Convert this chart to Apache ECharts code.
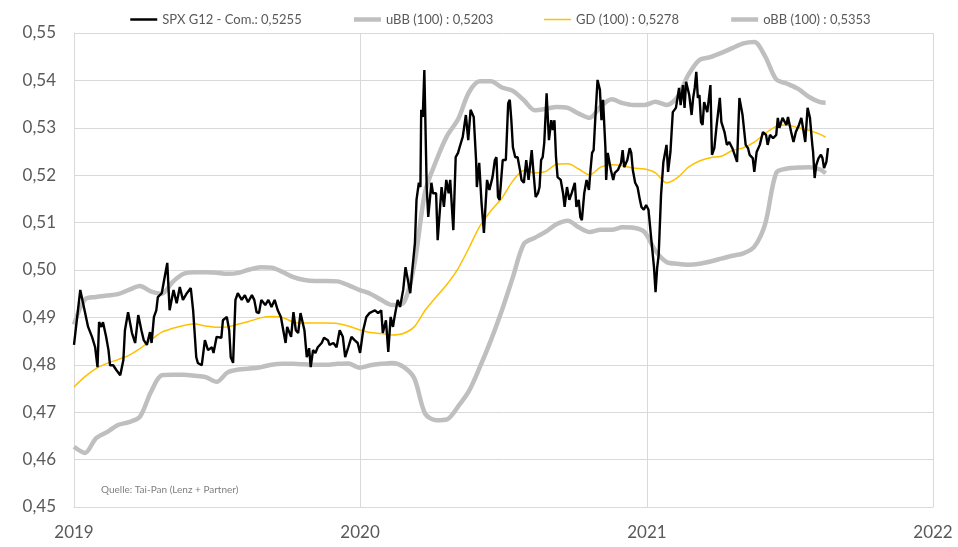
<!DOCTYPE html>
<html>
<head>
<meta charset="utf-8">
<script src="https://cdn.jsdelivr.net/npm/echarts@6/dist/echarts.min.js"></script>
<style>
  html, body { margin: 0; padding: 0; background: #fff; }
  #chart { width: 958px; height: 547px; }
</style>
</head>
<body>
<div id="chart"></div>
<script>
// SPX G12 - Com.: day offset from 2019-01-01 and value
const spxDays = [
  0, 8, 14, 16, 18, 23, 27, 30, 32, 35, 37, 41, 44, 46, 50, 54, 59, 63, 65, 69,
  74, 78, 82, 86, 89, 93, 97, 99, 102, 105, 107, 112, 115, 119, 122, 127, 131, 135, 139, 144,
  149, 152, 156, 158, 163, 167, 171, 176, 178, 182, 188, 190, 195, 198, 200, 203, 206, 209, 214, 218,
  222, 227, 230, 233, 236, 239, 244, 248, 252, 256, 260, 264, 267, 270, 272, 277, 280, 283, 286, 289,
  294, 297, 300, 302, 305, 308, 311, 316, 319, 324, 326, 331, 335, 339, 343, 346, 350, 354, 358, 362,
  365, 369, 373, 377, 384, 388, 392, 394, 398, 401, 404, 407, 409, 413, 416, 420, 423, 426, 429, 432,
  435, 437, 440, 442, 443, 445, 447, 450, 452, 454, 456, 458, 462, 464, 469, 472, 475, 478, 480, 484,
  487, 490, 492, 496, 500, 503, 506, 510, 513, 514, 517, 520, 523, 525, 527, 530, 534, 537, 539, 541,
  543, 547, 551, 554, 556, 558, 560, 563, 566, 569, 571, 574, 577, 580, 584, 586, 589, 592, 594, 596,
  598, 600, 603, 606, 609, 611, 613, 615, 617, 621, 624, 626, 629, 632, 635, 639, 641, 644, 646, 648,
  651, 654, 657, 659, 661, 663, 665, 668, 671, 673, 675, 678, 679, 681, 685, 688, 690, 694, 698, 700,
  702, 706, 709, 711, 713, 716, 719, 722, 724, 727, 730, 733, 737, 740, 742, 744, 746, 749, 752, 756,
  758, 761, 764, 768, 772, 774, 777, 779, 781, 785, 788, 790, 792, 794, 796, 798, 800, 802, 804, 808,
  812, 814, 817, 820, 824, 826, 830, 833, 836, 840, 843, 846, 849, 853, 857, 860, 862, 866, 868, 871,
  875, 879, 883, 885, 888, 892, 896, 898, 900, 904, 909, 911, 915, 918, 921, 925, 928, 931, 933, 936,
  939, 942, 943, 945, 947, 950, 953, 955, 957, 960, 962
];
const spxValues = [
  0.4842, 0.4958, 0.4911, 0.4915, 0.4880, 0.4859, 0.4837, 0.4795, 0.4890, 0.4880, 0.4890, 0.4859, 0.4831, 0.4799, 0.4799, 0.4789, 0.4778, 0.4810, 0.4873, 0.4911,
  0.4867, 0.4846, 0.4905, 0.4873, 0.4852, 0.4842, 0.4869, 0.4846, 0.4901, 0.4915, 0.4943, 0.4951, 0.4979, 0.5015, 0.4915, 0.4958, 0.4930, 0.4964, 0.4937, 0.4951,
  0.4962, 0.4915, 0.4816, 0.4804, 0.4799, 0.4852, 0.4831, 0.4837, 0.4825, 0.4859, 0.4857, 0.4894, 0.4901, 0.4873, 0.4816, 0.4804, 0.4937, 0.4951, 0.4937, 0.4947,
  0.4932, 0.4947, 0.4937, 0.4911, 0.4909, 0.4937, 0.4926, 0.4937, 0.4922, 0.4937, 0.4915, 0.4901, 0.4873, 0.4846, 0.4880, 0.4859, 0.4911, 0.4873, 0.4867, 0.4909,
  0.4873, 0.4816, 0.4835, 0.4795, 0.4831, 0.4825, 0.4837, 0.4846, 0.4857, 0.4852, 0.4842, 0.4846, 0.4837, 0.4873, 0.4859, 0.4816, 0.4837, 0.4859, 0.4852, 0.4846,
  0.4825, 0.4873, 0.4901, 0.4909, 0.4915, 0.4909, 0.4915, 0.4867, 0.4894, 0.4827, 0.4901, 0.4880, 0.4901, 0.4937, 0.4922, 0.4958, 0.5006, 0.4979, 0.4951, 0.5006,
  0.5057, 0.5148, 0.5184, 0.5175, 0.5338, 0.5323, 0.5422, 0.5175, 0.5112, 0.5112, 0.5184, 0.5162, 0.5162, 0.5063, 0.5175, 0.5133, 0.5190, 0.5162, 0.5190, 0.5084,
  0.5238, 0.5247, 0.5259, 0.5281, 0.5327, 0.5274, 0.5338, 0.5323, 0.5232, 0.5175, 0.5226, 0.5141, 0.5078, 0.5078, 0.5190, 0.5169, 0.5196, 0.5232, 0.5238, 0.5154,
  0.5148, 0.5232, 0.5232, 0.5352, 0.5359, 0.5316, 0.5259, 0.5238, 0.5238, 0.5211, 0.5190, 0.5184, 0.5232, 0.5190, 0.5253, 0.5211, 0.5154, 0.5162, 0.5175, 0.5232,
  0.5238, 0.5268, 0.5373, 0.5274, 0.5316, 0.5295, 0.5316, 0.5238, 0.5196, 0.5190, 0.5162, 0.5133, 0.5175, 0.5148, 0.5162, 0.5184, 0.5133, 0.5148, 0.5112, 0.5105,
  0.5162, 0.5190, 0.5169, 0.5211, 0.5247, 0.5253, 0.5316, 0.5401, 0.5380, 0.5316, 0.5359, 0.5259, 0.5190, 0.5247, 0.5211, 0.5190, 0.5205, 0.5211, 0.5226, 0.5253,
  0.5217, 0.5232, 0.5257, 0.5247, 0.5211, 0.5184, 0.5175, 0.5148, 0.5133, 0.5127, 0.5137, 0.5127, 0.5057, 0.5006, 0.4953, 0.5004, 0.5032, 0.5158, 0.5228, 0.5264,
  0.5207, 0.5249, 0.5333, 0.5342, 0.5384, 0.5348, 0.5390, 0.5342, 0.5397, 0.5369, 0.5327, 0.5363, 0.5384, 0.5418, 0.5363, 0.5369, 0.5312, 0.5306, 0.5354, 0.5333,
  0.5390, 0.5243, 0.5257, 0.5306, 0.5363, 0.5312, 0.5291, 0.5264, 0.5270, 0.5257, 0.5243, 0.5228, 0.5363, 0.5327, 0.5264, 0.5257, 0.5243, 0.5236, 0.5207, 0.5249,
  0.5264, 0.5291, 0.5285, 0.5264, 0.5285, 0.5278, 0.5285, 0.5321, 0.5300, 0.5321, 0.5306, 0.5323, 0.5291, 0.5270, 0.5291, 0.5306, 0.5321, 0.5291, 0.5270, 0.5342,
  0.5321, 0.5264, 0.5249, 0.5194, 0.5221, 0.5236, 0.5243, 0.5236, 0.5215, 0.5228, 0.5257
];

// smooth lines, every second week from 2019-01-01 (last point = week 137)
const gdValues = [
  0.4753, 0.4775, 0.4792, 0.4803, 0.4811, 0.4820, 0.4834, 0.4852, 0.4869, 0.4877,
  0.4883, 0.4886, 0.4882, 0.4879, 0.4880, 0.4886, 0.4892, 0.4899, 0.4902, 0.4900,
  0.4890, 0.4888, 0.4888, 0.4888, 0.4887, 0.4882, 0.4874, 0.4868, 0.4866, 0.4863,
  0.4866, 0.4880, 0.4915, 0.4943, 0.4970, 0.5003, 0.5047, 0.5093, 0.5125, 0.5152,
  0.5188, 0.5210, 0.5205, 0.5208, 0.5223, 0.5224, 0.5213, 0.5201, 0.5217, 0.5222,
  0.5220, 0.5215, 0.5213, 0.5205, 0.5184, 0.5195, 0.5217, 0.5230, 0.5237, 0.5240,
  0.5252, 0.5258, 0.5270, 0.5288, 0.5303, 0.5306, 0.5300, 0.5295, 0.5286, 0.5280
];

const obbValues = [
  0.4885, 0.4938, 0.4943, 0.4946, 0.4949, 0.4958, 0.4966, 0.4955, 0.4950, 0.4975,
  0.4992, 0.4995, 0.4995, 0.4994, 0.4992, 0.4994, 0.5001, 0.5006, 0.5005, 0.4996,
  0.4985, 0.4979, 0.4977, 0.4977, 0.4976, 0.4968, 0.4958, 0.4950, 0.4937, 0.4926,
  0.4930, 0.5010, 0.5165, 0.5230, 0.5283, 0.5318, 0.5375, 0.5398, 0.5398, 0.5385,
  0.5378, 0.5358, 0.5337, 0.5340, 0.5344, 0.5342, 0.5330, 0.5321, 0.5345, 0.5360,
  0.5352, 0.5348, 0.5348, 0.5355, 0.5348, 0.5365, 0.5412, 0.5443, 0.5449, 0.5458,
  0.5468, 0.5478, 0.5481, 0.5450, 0.5402, 0.5393, 0.5382, 0.5365, 0.5354, 0.5353
];

const ubbValues = [
  0.4627, 0.4614, 0.4645, 0.4658, 0.4673, 0.4679, 0.4690, 0.4742, 0.4778, 0.4779,
  0.4779, 0.4777, 0.4774, 0.4764, 0.4784, 0.4790, 0.4792, 0.4795, 0.4800, 0.4802,
  0.4802, 0.4801, 0.4800, 0.4800, 0.4802, 0.4803, 0.4794, 0.4799, 0.4802, 0.4804,
  0.4796, 0.4772, 0.4697, 0.4683, 0.4685, 0.4712, 0.4745, 0.4796, 0.4852, 0.4915,
  0.4985, 0.5055, 0.5068, 0.5081, 0.5097, 0.5104, 0.5090, 0.5080, 0.5085, 0.5085,
  0.5090, 0.5089, 0.5080, 0.5040, 0.5017, 0.5013, 0.5011, 0.5013, 0.5018, 0.5024,
  0.5030, 0.5035, 0.5049, 0.5098, 0.5205, 0.5214, 0.5216, 0.5217, 0.5212, 0.5204
];

const yearTicks = ['2019', '2020', '2021', '2022'];
const legendNames = [
  'SPX G12 - Com.: 0,5255',
  'uBB (100) : 0,5203',
  'GD (100) : 0,5278',
  'oBB (100) : 0,5353'
];
const legendWidths = [2.5, 4.5, 1.5, 4.5];

const DAY = 86400000;
const start = Date.UTC(2019, 0, 1);
const lastWeek = 137;
const bandDate = i => start + Math.min(2 * i, lastWeek) * 7 * DAY;

const spxData = spxValues.map((v, i) => [start + spxDays[i] * DAY, v]);
const gdData = gdValues.map((v, i) => [bandDate(i), v]);
const obbData = obbValues.map((v, i) => [bandDate(i), v]);
const ubbData = ubbValues.map((v, i) => [bandDate(i), v]);

const font = 'Lato, "Open Sans", sans-serif';
const chart = echarts.init(document.getElementById('chart'));

chart.setOption({
  animation: false,
  textStyle: { fontFamily: font },
  legend: {
    top: 8,
    left: 124,
    itemWidth: 27,
    itemHeight: 6,
    itemGap: 50,
    itemStyle: { opacity: 0 },
    textStyle: { color: '#595959', fontSize: 13, fontFamily: font },
    data: legendNames.map((n, i) => ({ name: n, lineStyle: { width: legendWidths[i] } }))
  },
  grid: { left: 74, right: 25, top: 33, bottom: 40 },
  xAxis: {
    type: 'time',
    min: Date.UTC(2019, 0, 1),
    max: Date.UTC(2022, 0, 1),
    splitNumber: 3,
    minInterval: 360 * DAY,
    axisLine: { show: true, lineStyle: { color: '#d9d9d9' } },
    axisTick: { show: false },
    axisLabel: {
      color: '#595959',
      fontSize: 17,
      margin: 17,
      showMinLabel: true,
      showMaxLabel: true,
      formatter: v => {
        const y = String(new Date(v).getUTCFullYear());
        return yearTicks.includes(y) ? y : '';
      }
    },
    splitLine: { show: true, lineStyle: { color: '#d9d9d9', width: 1 } }
  },
  yAxis: {
    type: 'value',
    min: 0.45,
    max: 0.55,
    interval: 0.01,
    axisLine: { show: true, lineStyle: { color: '#d9d9d9' } },
    axisTick: { show: false },
    axisLabel: {
      color: '#595959',
      fontSize: 17,
      margin: 18,
      formatter: v => v.toFixed(2).replace('.', ',')
    },
    splitLine: { lineStyle: { color: '#d9d9d9', width: 1 } }
  },
  graphic: [{
    type: 'text',
    left: 101,
    top: 485,
    style: {
      text: 'Quelle: Tai-Pan (Lenz + Partner)',
      fill: '#7f7f7f',
      font: '10px ' + font
    }
  }],
  series: [
    {
      name: legendNames[0],
      type: 'line',
      data: spxData,
      symbol: 'none',
      lineStyle: { color: '#000000', width: 2.4 },
      itemStyle: { color: '#000000' },
      z: 4
    },
    {
      name: legendNames[1],
      type: 'line',
      data: ubbData,
      symbol: 'none',
      smooth: 0.3,
      lineStyle: { color: '#bfbfbf', width: 4.5 },
      itemStyle: { color: '#bfbfbf' },
      z: 2
    },
    {
      name: legendNames[2],
      type: 'line',
      data: gdData,
      symbol: 'none',
      smooth: 0.3,
      lineStyle: { color: '#ffc000', width: 1.5 },
      itemStyle: { color: '#ffc000' },
      z: 3
    },
    {
      name: legendNames[3],
      type: 'line',
      data: obbData,
      symbol: 'none',
      smooth: 0.3,
      lineStyle: { color: '#bfbfbf', width: 4.5 },
      itemStyle: { color: '#bfbfbf' },
      z: 2
    }
  ]
});
</script>
</body>
</html>
